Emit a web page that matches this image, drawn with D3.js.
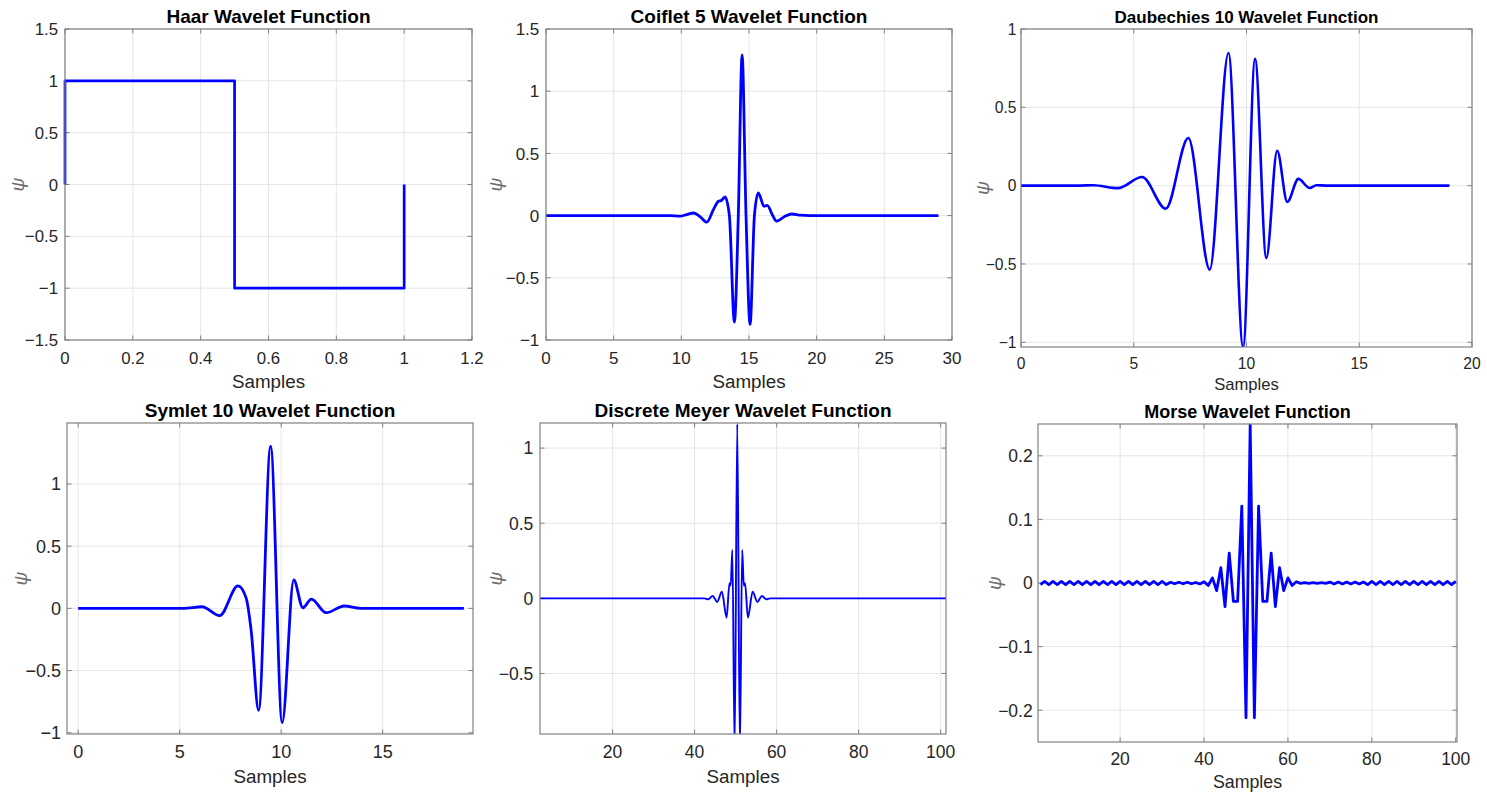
<!DOCTYPE html>
<html>
<head>
<meta charset="utf-8">
<script src="https://cdn.jsdelivr.net/npm/d3@7"></script>
<style>
  body { margin: 0; background: #fff; }
  text { font-family: "Liberation Sans", Arial, Helvetica, sans-serif; }
</style>
</head>
<body>
<script>
const width = 1487;
const height = 797;

// --- data ---
const haarX = [0, 0, 0.5, 0.5, 1, 1];
const haarY = [0, 1, 1, -1, -1, 0];

const coifX = [0, 9.2, 9.9, 10.4, 10.9, 11.4, 11.88, 12.37, 12.74, 12.98, 13.23, 13.55, 13.92, 14.21, 14.49, 14.78, 15.08, 15.4, 15.69, 16.11, 16.35, 16.75, 17.04, 17.66, 18.15, 18.8, 19.5, 29];
const coifY = [0, 0, -0.005, 0.008, 0.021, -0.01, -0.053, 0.048, 0.115, 0.123, 0.15, 0, -0.856, 0, 1.291, 0, -0.874, 0, 0.182, 0.075, 0.083, 0, -0.045, -0.005, 0.013, 0.003, 0, 0];

const dbX = [0, 2.5, 3.2, 4.3, 5.37, 6.42, 7.42, 8.37, 9.2, 9.85, 10.38, 10.88, 11.36, 11.81, 12.3, 12.8, 13.1, 13.6, 19];
const dbY = [0, 0, 0.003, -0.016, 0.055, -0.147, 0.304, -0.536, 0.847, -1.03, 0.809, -0.462, 0.223, -0.104, 0.043, -0.015, 0.003, 0, 0];

const symX = [0, 5.2, 6.1, 6.97, 7.87, 8.28, 8.52, 8.89, 9.48, 10.05, 10.62, 11.07, 11.49, 12.21, 13.11, 13.9, 19];
const symY = [0, 0, 0.013, -0.059, 0.18, 0.08, -0.175, -0.82, 1.304, -0.919, 0.228, 0.005, 0.075, -0.035, 0.019, 0, 0];

const meyX = [2.3, 42.4, 43.3, 44.4, 45.5, 46.65, 47.8, 48.5, 48.8, 49.2, 49.76, 50.4, 51.04, 51.6, 52.0, 52.3, 53.0, 54.15, 55.3, 56.4, 57.5, 58.4, 101.3];
const meyY = [0, 0, -0.006, 0.016, -0.024, 0.044, -0.129, 0.1, 0.085, 0.322, -1.0, 1.16, -1.0, 0.322, 0.085, 0.1, -0.129, 0.044, -0.024, 0.016, -0.006, 0, 0];

const morseX = d3.range(1, 101);
const morseY = [
  -0.0025, 0.0025, -0.0025, 0.0025, -0.0025, 0.0025, -0.0025, 0.0025, -0.0025, 0.0025,
  -0.0025, 0.0025, -0.0025, 0.0025, -0.0025, 0.0025, -0.0025, 0.0025, -0.0025, 0.0025,
  -0.0025, 0.0025, -0.0025, 0.0025, -0.0025, 0.0025, -0.0025, 0.0025, -0.0025, 0.0025,
  -0.0025, 0.0012, -0.0012, 0.0012, -0.0012, 0.0012, -0.0012, 0.0008, -0.0015, 0.002,
  -0.004, 0.008, -0.012, 0.024, -0.037, 0.047, -0.029, -0.029, 0.121, -0.212,
  0.25, -0.212, 0.121, -0.029, -0.029, 0.047, -0.037, 0.024, -0.012, 0.008,
  -0.004, 0.002, -0.0005, 0.0005, -0.0005, 0.0005, -0.0005, 0.0005, -0.0005, 0.0015,
  -0.0015, 0.0015, -0.0015, 0.0015, -0.0015, 0.0015, -0.0015, 0.0015, -0.0025, 0.0025,
  -0.0025, 0.0025, -0.0025, 0.0025, -0.0025, 0.0025, -0.0025, 0.0025, -0.0025, 0.0025,
  -0.0025, 0.0025, -0.0025, 0.0025, -0.0025, 0.0025, -0.0025, 0.0025, -0.0025, 0.0025
];

const titles = ["Haar Wavelet Function", "Coiflet 5 Wavelet Function", "Daubechies 10 Wavelet Function",
  "Symlet 10 Wavelet Function", "Discrete Meyer Wavelet Function", "Morse Wavelet Function"];

const xTicks = [
  [0, 0.2, 0.4, 0.6, 0.8, 1, 1.2],
  [0, 5, 10, 15, 20, 25, 30],
  [0, 5, 10, 15, 20],
  [0, 5, 10, 15],
  [20, 40, 60, 80, 100],
  [20, 40, 60, 80, 100]
];
const yTicks = [
  [-1.5, -1, -0.5, 0, 0.5, 1, 1.5],
  [-1, -0.5, 0, 0.5, 1, 1.5],
  [-1, -0.5, 0, 0.5, 1],
  [-1, -0.5, 0, 0.5, 1],
  [-0.5, 0, 0.5, 1],
  [-0.2, -0.1, 0, 0.1, 0.2]
];
const xDomains = [[0, 1.2], [0, 30], [0, 20], [-0.55, 19.45], [2.3, 101.3], [0.42, 100.3]];
const yDomains = [[-1.5, 1.5], [-1, 1.5], [-1.03, 1], [-1.01, 1.49], [-0.903, 1.167], [-0.25, 0.25]];

// layout (pixels) per panel: box = [left, top, right, bottom]
const layout = [
  {box: [65, 29, 472, 340], tickFs: 16.8, labFs: 18.8, titleFs: 19, titleY: 23, xTickDy: 24, xLabDy: 48.3, gap: 7, psiX: 18, lw: 2.7, curve: d3.curveLinear},
  {box: [546, 29, 952, 340], tickFs: 17, labFs: 18.8, titleFs: 19, titleY: 23.3, xTickDy: 24, xLabDy: 48.3, gap: 6.7, psiX: 496, lw: 2.8, curve: d3.curveMonotoneX},
  {box: [1021, 29, 1472, 347], tickFs: 15.6, labFs: 16.6, titleFs: 17, titleY: 23.3, xTickDy: 22, xLabDy: 43, gap: 4.5, psiX: 983, lw: 2.6, curve: d3.curveMonotoneX},
  {box: [67, 423, 473, 734], tickFs: 18, labFs: 18.8, titleFs: 19, titleY: 416.7, xTickDy: 24.3, xLabDy: 48.7, gap: 6, psiX: 21, lw: 2.8, curve: d3.curveMonotoneX},
  {box: [540, 423, 946, 734], tickFs: 17.5, labFs: 18.8, titleFs: 19, titleY: 417, xTickDy: 24, xLabDy: 48.7, gap: 6.7, psiX: 496, lw: 1.9, curve: d3.curveMonotoneX},
  {box: [1038, 424, 1457, 742], tickFs: 17.5, labFs: 17.8, titleFs: 18, titleY: 417.7, xTickDy: 23, xLabDy: 46.3, gap: 5.3, psiX: 995, lw: 2.8, curve: d3.curveLinear}
];

const series = [
  [haarX, haarY], [coifX, coifY], [dbX, dbY], [symX, symY], [meyX, meyY], [morseX, morseY]
];

const color = {
  line: "#0000ff",
  grid: "#e6e6e6",
  box: "#808080",
  text: "#262626",
  psi: "#6e6e6e"
};

const fmt = d => String(+d.toFixed(2)).replace("-", "\u2212");

let svg = d3.select("body").append("svg")
  .attr("width", width)
  .attr("height", height);

svg.append("rect").attr("width", width).attr("height", height).attr("fill", "#fff");

layout.forEach(function (L, i) {
  const [l, t, r, b] = L.box;
  const x = d3.scaleLinear().domain(xDomains[i]).range([l, r]);
  const y = d3.scaleLinear().domain(yDomains[i]).range([b, t]);
  const g = svg.append("g");

  // grid
  g.selectAll(".gx").data(xTicks[i]).enter().append("line")
    .attr("x1", d => x(d)).attr("x2", d => x(d))
    .attr("y1", t).attr("y2", b)
    .attr("stroke", color.grid).attr("stroke-width", 1);
  g.selectAll(".gy").data(yTicks[i]).enter().append("line")
    .attr("x1", l).attr("x2", r)
    .attr("y1", d => y(d)).attr("y2", d => y(d))
    .attr("stroke", color.grid).attr("stroke-width", 1);

  // inward ticks on all four sides
  const tl = 4.5;
  xTicks[i].forEach(function (d) {
    g.append("line").attr("x1", x(d)).attr("x2", x(d)).attr("y1", b).attr("y2", b - tl)
      .attr("stroke", color.box);
    g.append("line").attr("x1", x(d)).attr("x2", x(d)).attr("y1", t).attr("y2", t + tl)
      .attr("stroke", color.box);
  });
  yTicks[i].forEach(function (d) {
    g.append("line").attr("x1", l).attr("x2", l + tl).attr("y1", y(d)).attr("y2", y(d))
      .attr("stroke", color.box);
    g.append("line").attr("x1", r).attr("x2", r - tl).attr("y1", y(d)).attr("y2", y(d))
      .attr("stroke", color.box);
  });

  // clip + line
  svg.append("clipPath").attr("id", "clip" + i)
    .append("rect").attr("x", l - 2).attr("y", t).attr("width", r - l + 4).attr("height", b - t);

  const pts = series[i][0].map((v, k) => [v, series[i][1][k]]);
  const line = d3.line().x(d => x(d[0])).y(d => y(d[1])).curve(L.curve);
  g.append("path")
    .attr("d", line(pts))
    .attr("clip-path", "url(#clip" + i + ")")
    .attr("fill", "none")
    .attr("stroke", color.line)
    .attr("stroke-width", L.lw)
    .attr("stroke-linejoin", "round");

  // box
  g.append("rect").attr("x", l).attr("y", t).attr("width", r - l).attr("height", b - t)
    .attr("fill", "none").attr("stroke", color.box).attr("stroke-width", 1.2);

  // tick labels
  g.selectAll(".xl").data(xTicks[i]).enter().append("text")
    .attr("x", d => x(d)).attr("y", b + L.xTickDy)
    .attr("text-anchor", "middle")
    .attr("font-size", L.tickFs).attr("fill", color.text)
    .text(fmt);
  g.selectAll(".yl").data(yTicks[i]).enter().append("text")
    .attr("x", l - L.gap).attr("y", d => y(d)).attr("dy", "0.36em")
    .attr("text-anchor", "end")
    .attr("font-size", L.tickFs).attr("fill", color.text)
    .text(fmt);

  // axis labels
  g.append("text")
    .attr("x", (l + r) / 2).attr("y", b + L.xLabDy)
    .attr("text-anchor", "middle")
    .attr("font-size", L.labFs).attr("fill", color.text)
    .text("Samples");
  g.append("text")
    .attr("transform", "translate(" + L.psiX + "," + ((t + b) / 2) + ") rotate(-90)")
    .attr("dy", "0.3em")
    .attr("text-anchor", "middle")
    .attr("font-family", "DejaVu Serif, serif")
    .attr("font-style", "italic")
    .attr("font-size", 19).attr("fill", color.psi)
    .text("\u03c8");

  // title
  g.append("text")
    .attr("x", (l + r) / 2).attr("y", L.titleY)
    .attr("text-anchor", "middle")
    .attr("font-size", L.titleFs).attr("font-weight", "bold").attr("fill", "#000")
    .text(titles[i]);
});
</script>
</body>
</html>
